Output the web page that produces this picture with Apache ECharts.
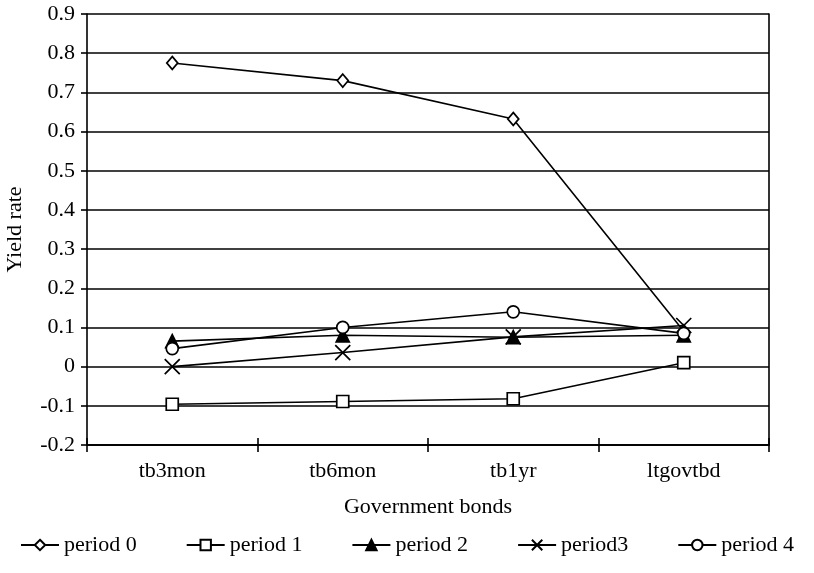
<!DOCTYPE html>
<html><head><meta charset="utf-8">
<script src="https://cdn.jsdelivr.net/npm/echarts@6/dist/echarts.min.js"></script>
<style>html,body{margin:0;padding:0;background:#fff}#c{width:814px;height:573px}</style>
</head><body><div id="c"></div>
<script>
const categories = ['tb3mon', 'tb6mon', 'tb1yr', 'ltgovtbd'];
const period0 = [0.775, 0.73, 0.632, 0.09];
const period1 = [-0.096, -0.089, -0.082, 0.01];
const period2 = [0.065, 0.08, 0.075, 0.08];
const period3 = [0.0, 0.036, 0.076, 0.105];
const period4 = [0.046, 0.1, 0.14, 0.085];
const seriesNames = ['period 0', 'period 1', 'period 2', 'period3', 'period 4'];
const seriesData = [period0, period1, period2, period3, period4];
const yTicks = { min: -0.2, max: 0.9, interval: 0.1 };

const font = 'Liberation Serif';
const fs = 22;
const symbols = [
  { symbol: 'diamond', size: [11, 13], fill: '#fff' },
  { symbol: 'rect', size: 12, fill: '#fff' },
  { symbol: 'triangle', size: 13, fill: '#000' },
  { symbol: 'path://M0,0L10,10M10,0L0,10', size: 15, fill: 'none' },
  { symbol: 'circle', size: 12, fill: '#fff' }
];

const series = seriesData.map((d, i) => ({
  name: seriesNames[i],
  type: 'line',
  data: d,
  xAxisIndex: i === 1 ? 1 : 0,
  symbol: symbols[i].symbol,
  symbolSize: symbols[i].size,
  showAllSymbol: true,
  lineStyle: { color: '#000', width: 1.6 },
  itemStyle: { color: symbols[i].fill, borderColor: '#000', borderWidth: 1.7 },
  emphasis: { disabled: true },
  z: 3
}));

const chart = echarts.init(document.getElementById('c'), null, { renderer: 'canvas' });
chart.setOption({
  animation: false,
  backgroundColor: '#fff',
  textStyle: { fontFamily: font, color: '#000' },
  grid: { left: 87, right: 45, top: 14, bottom: 128, containLabel: false, outerBoundsMode: 'none' },
  legend: {
    bottom: 12,
    left: 'center',
    itemWidth: 38,
    itemHeight: 13,
    itemGap: 49,
    textStyle: { fontFamily: font, fontSize: fs, color: '#000' },
    data: seriesNames
  },
  xAxis: [{
    type: 'category',
    gridIndex: 0,
    data: categories,
    boundaryGap: true,
    name: 'Government bonds',
    nameLocation: 'middle',
    nameGap: 51,
    nameTextStyle: { fontFamily: font, fontSize: fs, color: '#000' },
    axisLine: { onZero: false, lineStyle: { color: '#000', width: 1.6 } },
    axisTick: { show: true, length: 7, inside: false, lineStyle: { color: '#000', width: 1.6 } },
    axisLabel: { fontFamily: font, fontSize: fs, color: '#000', margin: 15 },
    splitLine: { show: false }
  }, {
    type: 'category',
    gridIndex: 0,
    data: categories,
    position: 'bottom',
    offset: 0,
    boundaryGap: true,
    axisLine: { show: true, onZero: false, lineStyle: { color: '#000', width: 1.6 } },
    axisTick: { show: true, length: 7, inside: true, lineStyle: { color: '#000', width: 1.6 } },
    axisLabel: { show: false },
    splitLine: { show: false },
    z: 5
  }],
  yAxis: [{
    type: 'value',
    min: yTicks.min, max: yTicks.max, interval: yTicks.interval,
    name: 'Yield rate',
    nameLocation: 'middle',
    nameGap: 61,
    nameRotate: 90,
    nameTextStyle: { fontFamily: font, fontSize: fs, color: '#000' },
    axisLine: { show: true, onZero: false, lineStyle: { color: '#000', width: 1.6 } },
    axisTick: { show: true, length: 6, lineStyle: { color: '#000', width: 1.6 } },
    axisLabel: { fontFamily: font, fontSize: fs, color: '#000', margin: 12,
      formatter: v => { const r = Math.round(v * 10) / 10; return r === 0 ? '0' : String(r); } },
    splitLine: { show: true, lineStyle: { color: '#000', width: 1.6 } }
  }, {
    type: 'value',
    position: 'right',
    min: yTicks.min, max: yTicks.max, interval: yTicks.interval,
    axisLine: { show: true, onZero: false, lineStyle: { color: '#000', width: 1.6 } },
    axisTick: { show: false },
    axisLabel: { show: false },
    splitLine: { show: false }
  }],
  series: series
});
</script></body></html>
